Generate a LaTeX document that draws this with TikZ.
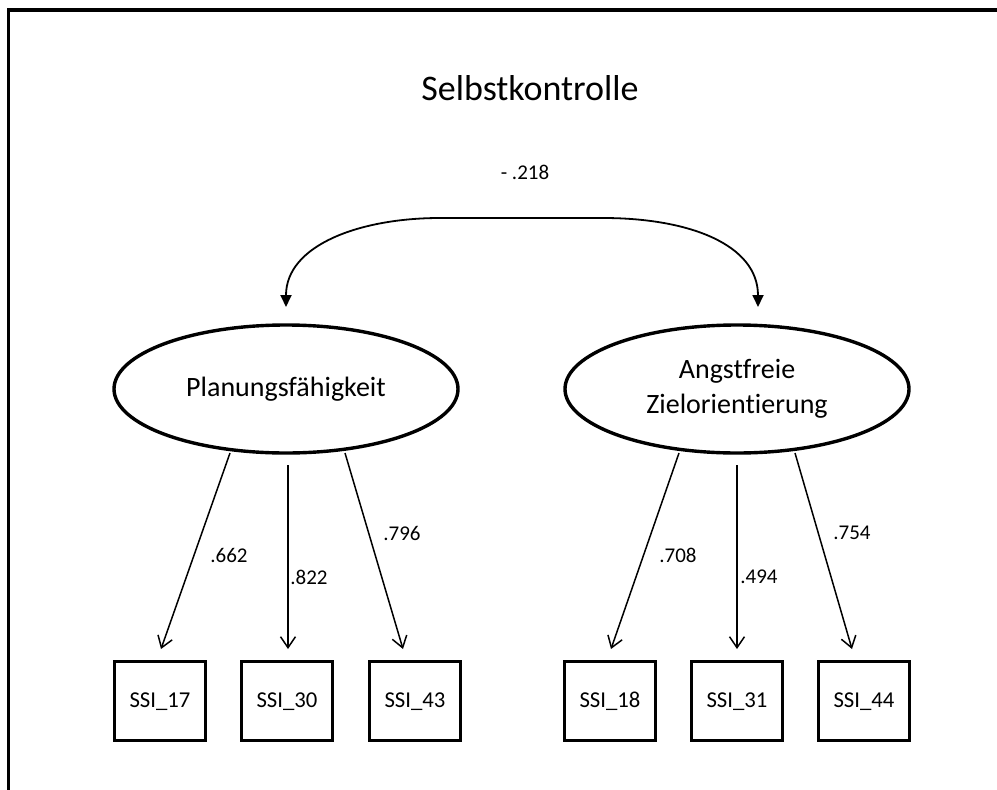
\documentclass[tikz,border=0pt]{standalone}
\usepackage{fontspec}
\setmainfont{Carlito}[Ligatures={NoCommon}]
\usetikzlibrary{shapes.geometric,arrows.meta}
\begin{document}
\begin{tikzpicture}[x=1pt,y=-1pt,
  latent/.style={ellipse,draw,line width=3.4pt,minimum width=344pt,minimum height=128pt,inner sep=0pt,align=center,font=\fontsize{28}{35}\selectfont},
  indicator/.style={rectangle,draw,line width=3.6pt,minimum width=91pt,minimum height=79pt,inner sep=0pt,text height=16pt,text depth=4pt,font=\fontsize{22.7}{27}\selectfont},
  loading/.style={line width=1.5pt,-{Straight Barb[length=11pt,width=15pt,line width=1.5pt]}},
  corr/.style={line width=1.8pt,{Triangle[length=12pt,width=11pt]}-{Triangle[length=12pt,width=11pt]}},
  coef/.style={font=\fontsize{21}{25}\selectfont,inner sep=0pt}]
\useasboundingbox (0,0) rectangle (997,790);

% outer frame (open at right and bottom)
\draw[line width=3.6pt] (8.5,790) -- (8.5,10) -- (997,10);

% title
\node[font=\fontsize{36}{42}\selectfont,inner sep=0pt] (title) at (530,88) {Selbstkontrolle};

% latent factors
\node[latent] (P) at (286,389) {Planungsfähigkeit};
\node[latent] (A) at (737,389) {Angstfreie\\Zielorientierung};

% indicators
\node[indicator] (s17) at (160,701) {SSI\_17};
\node[indicator] (s30) at (287,701) {SSI\_30};
\node[indicator] (s43) at (415,701) {SSI\_43};
\node[indicator] (s18) at (610,701) {SSI\_18};
\node[indicator] (s31) at (737,701) {SSI\_31};
\node[indicator] (s44) at (864,701) {SSI\_44};

% correlation between the factors
\coordinate (cl) at (286,307);
\coordinate (cr) at (758,307);
\draw[corr] (cl) .. controls (286,245) and (360,218) .. (440,218) -- (603,218) .. controls (690,218) and (758,245) .. (cr);
\node[coef] (r) at (525,172) {- .218};

% loadings
\coordinate (p1) at (230,453);
\coordinate (p2) at (288,465);
\coordinate (p3) at (345,453);
\coordinate (a1) at (679,453);
\coordinate (a2) at (737,465);
\coordinate (a3) at (795,453);
\coordinate (t17) at (161,649);
\coordinate (t30) at (288,649);
\coordinate (t43) at (403,649);
\coordinate (t18) at (611,649);
\coordinate (t31) at (737,649);
\coordinate (t44) at (852,649);
\draw[loading] (p1) -- (t17);
\draw[loading] (p2) -- (t30);
\draw[loading] (p3) -- (t43);
\draw[loading] (a1) -- (t18);
\draw[loading] (a2) -- (t31);
\draw[loading] (a3) -- (t44);

\node[coef] (l17) at (229,555) {.662};
\node[coef] (l30) at (309,577) {.822};
\node[coef] (l43) at (402,533) {.796};
\node[coef] (l18) at (678,555) {.708};
\node[coef] (l31) at (759,577) {.494};
\node[coef] (l44) at (852,533) {.754};
\end{tikzpicture}
\end{document}
